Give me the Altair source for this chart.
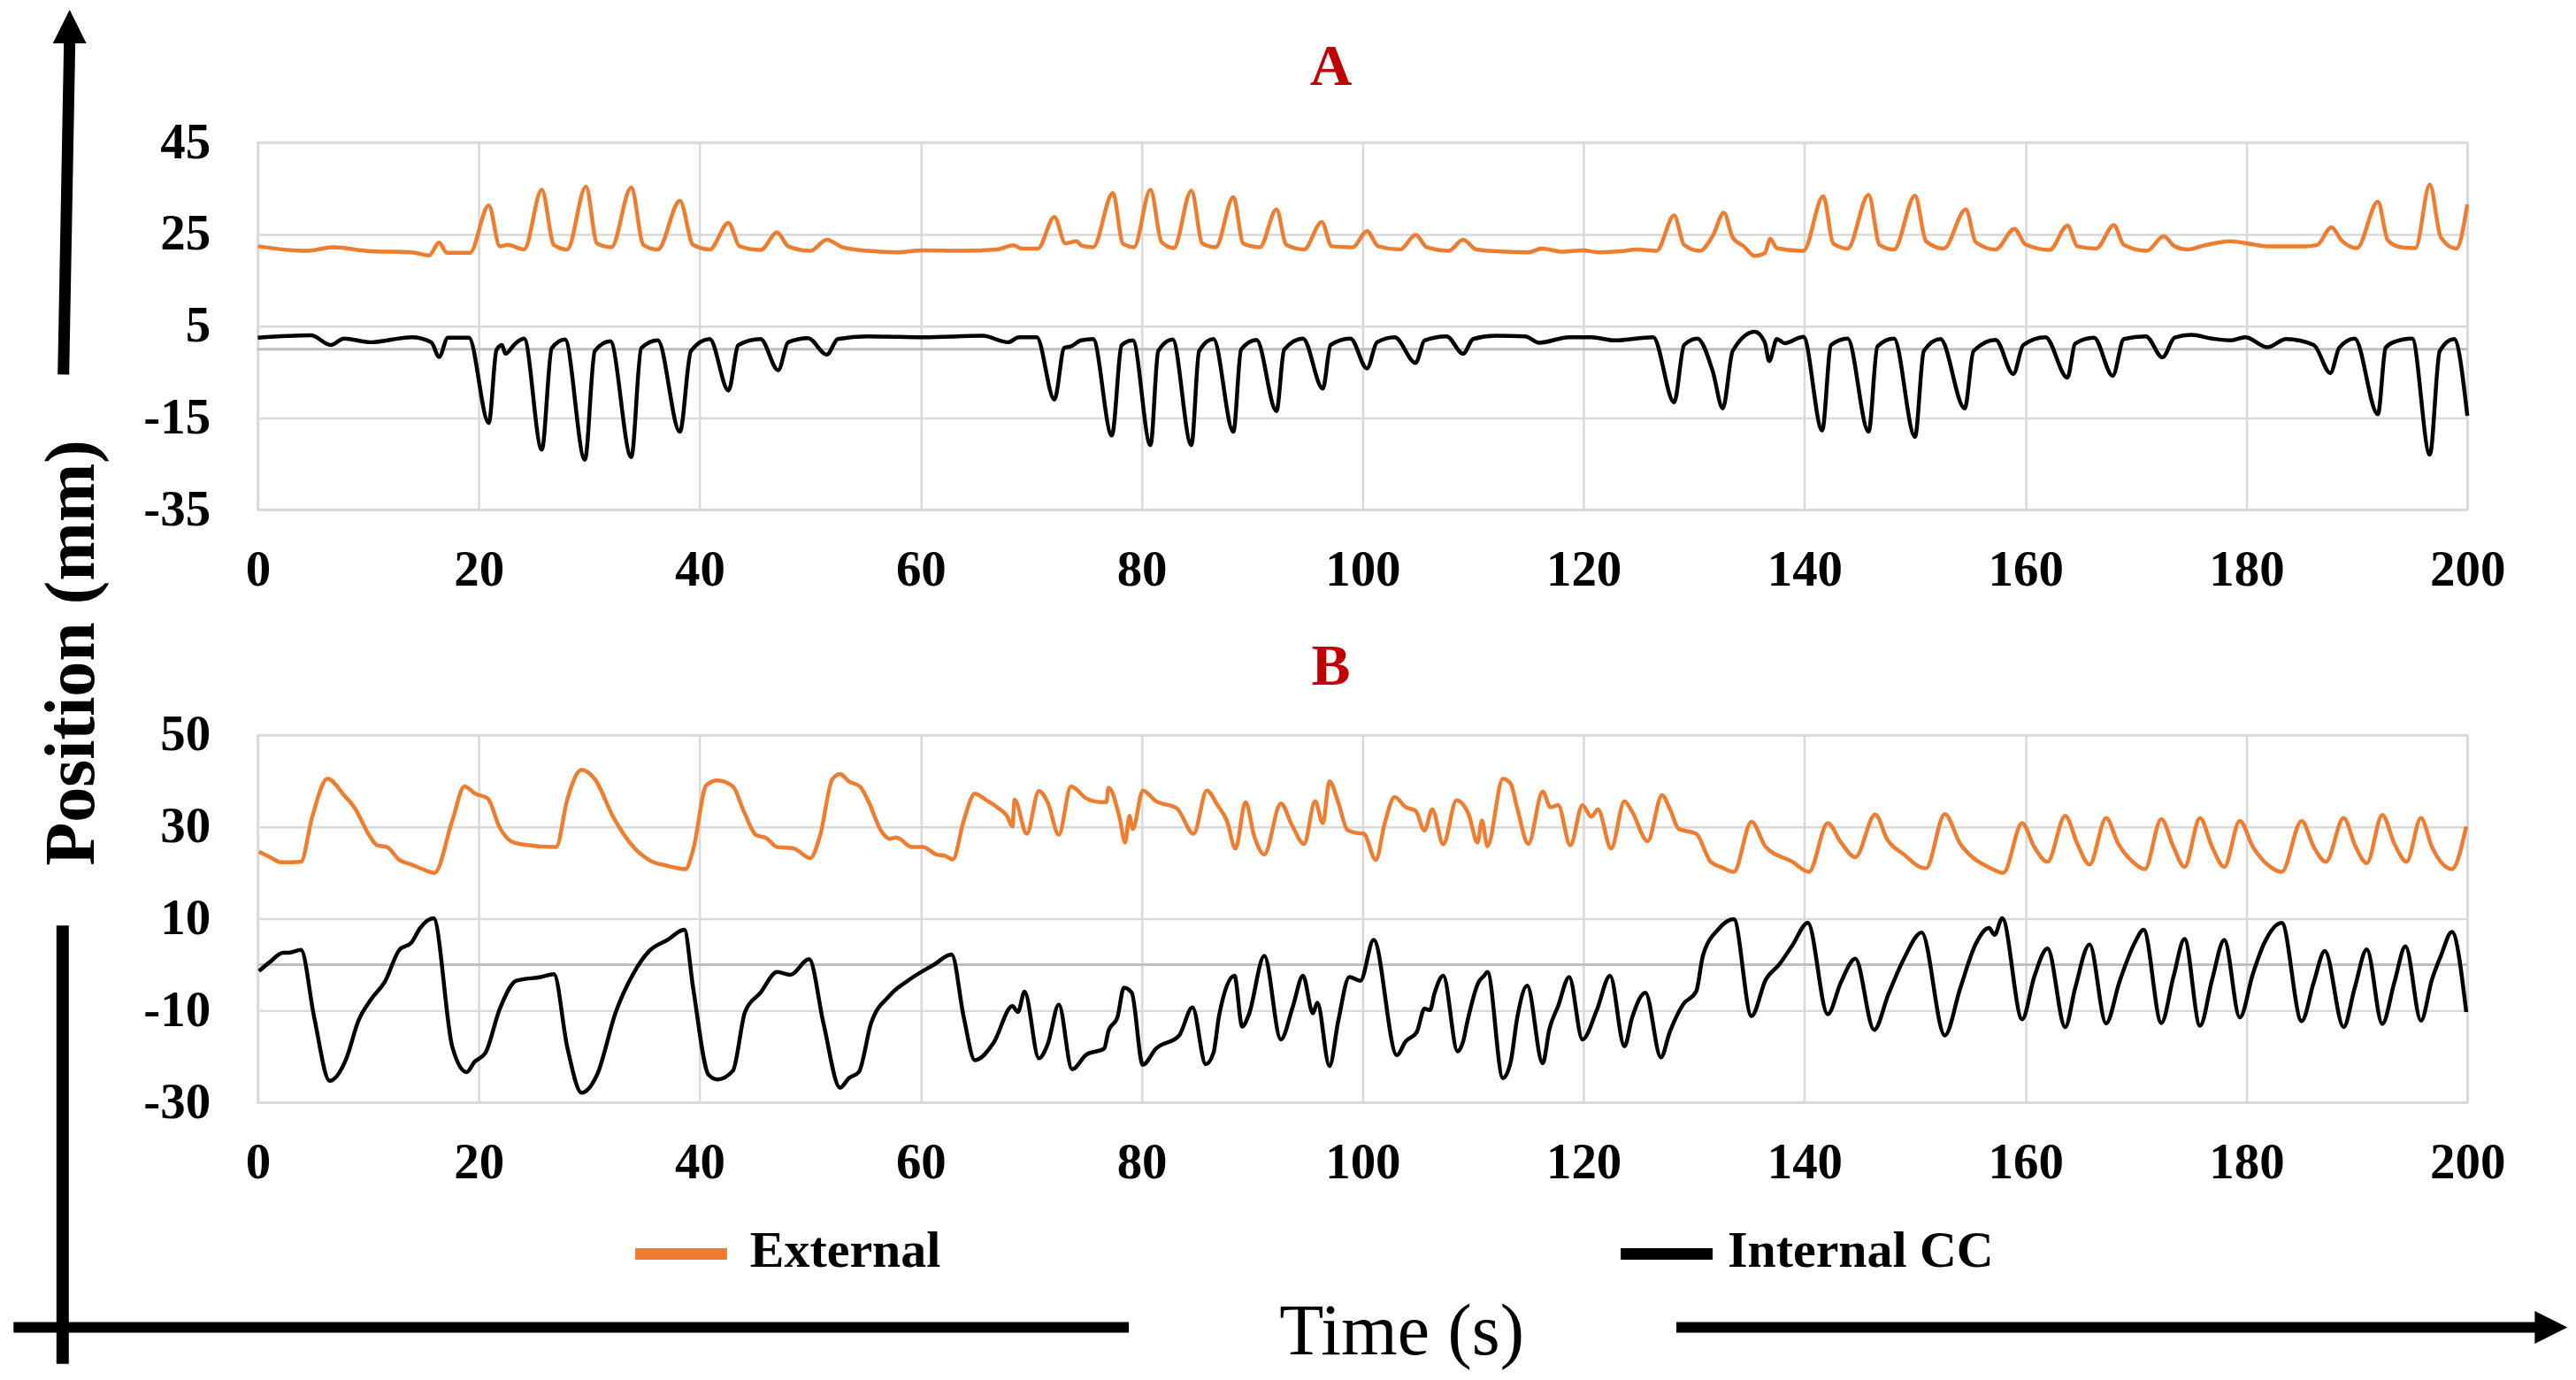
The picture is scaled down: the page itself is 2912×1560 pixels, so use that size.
import altair as alt
import pandas as pd

# ---------------- data ----------------
# Panel A - External
a_ext_t = [0, 4.4, 6.8, 10.2, 13.9, 15.5, 16.4, 17.1, 19.2, 20.9, 21.9, 22.6, 24.1, 25.7, 26.8, 28.0,
           29.7, 30.7, 32.0, 33.8, 34.9, 36.2, 38.2, 39.4, 40.9, 42.6, 43.6, 45.5, 47.0, 48.0, 50.0,
           51.5, 52.9, 55.2, 57.9, 60.2, 63.6, 66.9, 68.4, 69.1, 70.6, 72.1, 73.1, 74.1, 74.6, 75.6,
           77.4, 78.3, 79.3, 80.8, 81.8, 82.9, 84.5, 85.5, 86.7, 88.3, 89.2, 90.7, 92.2, 93.1, 94.7,
           96.3, 97.2, 99.1, 100.4, 101.4, 103.4, 104.8, 105.8, 107.8, 109.1, 110.3, 113.0, 115.0,
           116.2, 118.1, 119.9, 121.4, 123.4, 124.8, 126.6, 128.2, 129.1, 130.5, 131.7, 132.7, 133.5,
           134.5, 135.5, 136.4, 136.9, 137.5, 139.9, 141.7, 142.6, 143.9, 145.8, 146.8, 148.1, 150.0,
           151.0, 152.6, 154.6, 155.5, 157.3, 159.0, 160.0, 162.2, 163.8, 164.7, 166.4, 168.0, 168.9,
           171.0, 172.5, 173.5, 174.7, 176.2, 178.5, 179.6, 181.9, 185.3, 186.4, 187.7, 188.6, 190.0,
           191.9, 192.8, 194.0, 195.3, 196.6, 197.6, 199.0, 200.0]
a_ext_v = [22.4, 21.4, 22.2, 21.3, 21.1, 20.4, 23.2, 21.0, 21.0, 31.3, 22.4, 22.7, 21.7, 34.7, 22.7, 21.7,
           35.4, 23.0, 22.2, 35.2, 22.7, 21.7, 32.3, 22.7, 21.7, 27.5, 22.4, 21.6, 25.4, 22.4, 21.4,
           23.8, 22.2, 21.4, 21.1, 21.5, 21.4, 21.7, 22.6, 21.9, 21.9, 28.8, 23.0, 23.5, 22.5, 22.2,
           34.0, 23.0, 22.2, 34.7, 23.3, 22.0, 34.5, 23.0, 22.2, 33.1, 23.0, 22.2, 30.4, 22.7, 21.7,
           27.7, 22.4, 22.2, 25.7, 22.4, 21.7, 24.9, 22.2, 21.4, 23.8, 21.7, 21.2, 21.1,
           21.9, 21.2, 21.5, 21.1, 21.3, 21.7, 21.4, 29.1, 22.7, 21.4, 24.7, 29.7, 24.3,
           22.4, 20.3, 20.9, 24.0, 22.0, 21.4, 33.3, 23.0, 21.9, 33.6, 22.7, 21.7, 33.4,
           23.5, 21.9, 30.4, 23.3, 21.7, 26.2, 22.8, 21.6, 26.9, 22.4, 21.9, 27.0, 22.7,
           21.4, 24.6, 22.4, 21.7, 22.6, 23.5, 23.2, 22.4, 22.4, 22.7, 26.5, 23.7, 22.0,
           32.1, 23.7, 22.2, 22.0, 35.8, 24.3, 21.9, 31.5]

# Panel A - Internal CC
a_int_t = [0, 4.8, 6.6, 7.8, 10.2, 13.9, 15.7, 16.4, 17.2, 19.1, 20.9, 21.6, 22.1, 22.4, 23.3, 24.1,
           25.7, 26.6, 27.8, 29.6, 30.5, 31.9, 33.8, 34.7, 36.2, 38.2, 39.2, 40.9, 42.6, 43.5, 45.5,
           47.1, 48.0, 49.8, 51.5, 52.5, 55.2, 60.2, 65.6, 67.9, 68.9, 70.5, 72.1, 73.0, 73.6, 74.5,
           75.6, 77.3, 78.2, 79.2, 80.8, 81.5, 82.8, 84.5, 85.2, 86.5, 88.3, 89.0, 90.4, 92.2, 92.9,
           94.6, 96.4, 97.1, 98.9, 100.4, 101.3, 102.9, 104.8, 105.6, 107.6, 109.1, 110.0, 112.0,
           114.7, 116.0, 118.7, 120.7, 122.8, 126.3, 128.2, 129.1, 130.3, 131.7, 132.6, 133.5, 135.5,
           136.4, 136.8, 137.5, 138.2, 139.9, 141.6, 142.4, 143.9, 145.8, 146.6, 148.1, 150.0, 150.8,
           152.3, 154.5, 155.3, 157.3, 158.9, 159.8, 161.8, 163.8, 164.5, 166.2, 167.9, 168.9, 170.9,
           172.4, 173.5, 175.0, 176.9, 178.6, 179.9, 181.9, 183.6, 186.1, 187.6, 188.4, 189.8, 191.9,
           192.6, 193.3, 195.0, 196.6, 197.5, 198.8, 200.0]
a_int_v = [2.5, 3.0, 0.9, 2.3, 1.5, 2.6, 1.5, -1.7, 2.5, 2.5, -16.1, -0.2, 0.9, -1.0, 1.2, 2.3,
           -21.9, 0.2, 2.1, -24.1, -0.4, 1.7, -23.5, 0.2, 1.9, -18.0, -0.4, 2.2, -9.0, 0.9, 2.2,
           -4.6, 1.5, 2.4, -1.2, 2.2, 2.8, 2.6, 2.9, 1.5, 2.6, 2.6, -11.0, 0.3, 0.6, 1.9,
           2.2, -18.8, 0.9, 1.9, -20.9, -0.4, 2.1, -20.9, -0.4, 2.2, -18.0, -0.1, 2.0, -13.5, -0.1,
           2.3, -8.6, 0.9, 2.3, -4.2, 1.5, 2.6, -3.0, 1.9, 2.8, -1.0, 2.2, 2.9,
           2.8, 1.4, 2.6, 2.6, 1.9, 2.6, -11.6, 0.9, 2.3, -4.9, -12.9, -0.4, 3.8,
           1.5, -2.6, 2.2, 1.3, 2.7, -17.7, 0.9, 2.3, -18.0, 0.6, 2.3, -19.1, -0.4,
           2.2, -12.9, -0.4, 2.0, -5.4, 0.9, 2.6, -6.2, 1.2, 2.5, -5.8, 2.2, 2.8,
           -1.8, 2.5, 3.1, 2.3, 1.9, 2.6, 0.4, 2.2, 0.9, -5.2, 0.3, 2.3, -14.2,
           0.3, 1.5, 2.3, -23.0, -0.4, 2.2, -14.5]

# Panel B - External
b_ext_t = [0.1, 1.1, 2.1, 3.9, 4.9, 6.3, 7.8, 8.8, 10.0, 10.8, 11.7, 12.8, 13.9, 14.9, 16.0, 17.6,
           18.7, 19.7, 20.8, 21.9, 22.9, 23.9, 27.0, 28.0, 29.3, 30.5, 32.2, 34.0, 35.4, 37.1, 38.7,
           39.4, 40.6, 41.6, 43.0, 44.0, 45.1, 46.0, 47.0, 48.5, 50.0, 50.9, 52.0, 52.7, 53.5, 54.5,
           55.2, 56.5, 57.2, 57.8, 59.2, 60.2, 61.4, 62.2, 62.9, 63.9, 64.9, 65.9, 66.9, 67.8, 68.3,
           68.5, 69.6, 70.7, 71.5, 72.5, 73.6, 75.0, 76.3, 76.8, 77.0, 78.0, 78.5, 78.9, 79.2, 80.1,
           81.3, 83.2, 84.7, 85.9, 86.9, 87.7, 88.5, 89.4, 90.2, 91.1, 92.6, 93.6, 94.7, 95.7, 96.4,
           97.0, 97.8, 98.6, 99.4, 100.1, 101.2, 102.0, 102.9, 103.9, 104.8, 105.6, 106.3, 107.3,
           108.5, 109.6, 110.4, 110.8, 111.3, 112.7, 113.4, 114.0, 115.0, 116.3, 117.0, 117.7, 118.8,
           119.9, 120.7, 121.3, 122.5, 123.7, 124.4, 125.8, 127.1, 127.8, 128.6, 130.2, 131.5, 132.5,
           133.6, 135.2, 136.5, 138.9, 140.4, 142.1, 143.3, 144.6, 146.4, 147.5, 149.0, 150.5, 151.0,
           152.7, 154.1, 155.2, 156.7, 158.0, 159.7, 160.8, 162.0, 163.6, 164.7, 165.8, 167.3, 168.4,
           169.7, 170.8, 172.3, 173.4, 174.4, 175.8, 176.9, 178.0, 179.4, 180.6, 181.9, 183.2, 185.0,
           186.1, 187.2, 188.8, 189.9, 190.9, 192.3, 193.4, 194.5, 195.8, 196.8, 198.6, 199.9]
b_ext_v = [24.6, 23.4, 22.3, 22.4, 32.0, 40.5, 36.9, 34.0, 28.5, 26.0, 25.6, 22.8, 21.8, 20.8, 20.0, 31.4,
           38.8, 37.2, 36.2, 29.8, 26.9, 26.2, 25.6, 35.9, 42.4, 40.4, 32.0, 25.6, 22.8, 21.5, 20.8,
           25.0, 39.1, 40.1, 38.8, 33.3, 28.2, 27.6, 25.6, 25.3, 23.2, 28.2, 40.4, 41.5, 39.9, 38.8,
           35.9, 28.8, 27.4, 27.7, 25.6, 25.6, 24.0, 23.7, 22.9, 31.4, 37.2, 35.9, 34.3, 32.4, 30.1,
           35.9, 28.5, 37.8, 35.3, 28.3, 38.8, 36.2, 35.4, 35.4, 38.5, 32.0, 26.6, 32.4, 29.5, 37.9,
           35.6, 34.0, 28.5, 37.9, 34.6, 31.4, 25.3, 35.4, 27.9, 24.0, 35.1, 30.4, 26.3, 35.6, 30.8,
           39.9, 35.3, 29.4, 28.7, 28.5, 22.8, 30.8, 36.5, 34.3, 33.5, 29.2, 33.8, 26.2,
           35.8, 32.7, 26.6, 31.4, 25.8, 40.5, 39.4, 34.0, 26.3, 37.7, 34.3, 34.7, 26.0,
           34.7, 32.2, 33.8, 25.3, 35.6, 33.3, 26.9, 36.9, 34.0, 29.6, 28.5, 22.4, 21.2,
           20.2, 31.1, 25.6, 22.4, 20.2, 30.8, 26.6, 23.4, 32.7, 27.2, 24.0, 21.2, 21.0,
           32.8, 26.3, 23.4, 21.2, 20.0, 30.8, 25.6, 22.4, 32.4, 26.3, 21.8, 31.9, 26.3,
           22.4, 20.8, 31.7, 25.6, 21.3, 31.9, 25.6, 21.3, 31.3, 25.6, 21.8, 20.2, 31.3,
           25.6, 22.4, 31.9, 25.6, 22.1, 32.6, 26.3, 22.4, 31.9, 25.6, 20.8, 30.1]

# Panel B - Internal CC
b_int_t = [0.1, 1.1, 2.3, 2.8, 3.9, 5.1, 6.5, 8.0, 9.1, 10.2, 11.5, 12.8, 13.9, 14.7, 15.9, 17.6,
           18.9, 19.6, 20.6, 21.9, 23.4, 25.6, 26.8, 28.0, 29.3, 30.7, 32.4, 34.0, 35.4, 37.1, 38.6,
           39.4, 40.8, 41.6, 43.0, 44.1, 45.5, 47.0, 48.2, 49.9, 51.2, 52.7, 53.5, 54.4, 55.5, 57.2,
           59.2, 61.2, 62.8, 63.9, 64.9, 66.6, 68.3, 68.8, 69.4, 70.7, 71.5, 72.5, 73.7, 75.0, 76.6,
           77.0, 77.8, 78.4, 79.1, 80.1, 81.3, 83.4, 84.6, 85.8, 86.5, 87.0, 88.4, 89.1, 89.7, 91.1,
           92.6, 93.7, 94.6, 95.5, 95.9, 97.0, 97.8, 98.8, 99.8, 101.0, 103.1, 103.9, 104.9, 105.6,
           106.1, 106.5, 107.3, 108.6, 109.1, 109.5, 110.5, 111.0, 111.3, 112.7, 113.4, 114.0, 114.9,
           116.3, 116.9, 117.7, 118.7, 119.9, 121.2, 122.4, 123.7, 124.4, 125.6, 127.0, 127.8, 129.0,
           130.2, 130.8, 132.2, 133.6, 135.2, 136.5, 137.7, 138.9, 140.3, 142.1, 143.3, 144.6, 146.3,
           147.6, 149.0, 150.6, 152.7, 154.1, 155.5, 156.7, 157.2, 157.9, 159.7, 160.8, 162.0, 163.6,
           164.5, 165.8, 167.3, 168.5, 169.9, 170.7, 172.3, 173.4, 174.4, 175.8, 176.9, 178.0, 179.4,
           180.6, 181.6, 183.2, 185.0, 186.1, 187.1, 188.8, 189.8, 190.9, 192.3, 193.4, 194.4, 195.8,
           196.8, 197.6, 198.6, 199.9]
b_int_v = [-1.4, 0.6, 2.6, 2.6, 3.2, -11.5, -25.3, -20.5, -12.2, -7.7, -3.7, 3.2, 4.8, 8.0, 10.1, -17.9,
           -23.4, -21.2, -19.2, -9.6, -3.5, -2.7, -2.1, -17.9, -27.9, -24.0, -10.3, -1.9, 2.9, 5.4, 7.6,
           -5.1, -24.0, -25.0, -23.1, -10.3, -6.1, -1.6, -2.2, 1.2, -12.8, -26.8, -24.7, -23.4, -12.8, -6.7,
           -2.9, 0.0, 2.2, -11.5, -20.8, -17.0, -9.0, -10.3, -5.9, -20.4, -17.3, -8.7, -22.8, -19.6, -18.3,
           -14.4, -11.5, -5.0, -6.1, -21.8, -18.3, -15.4, -9.3, -21.7, -19.2, -11.2, -2.4, -13.5, -10.9, 1.9,
           -16.3, -9.0, -2.4, -10.6, -8.3, -22.1, -12.2, -2.7, -3.5, 5.4, -19.7, -16.7, -14.7, -9.6,
           -9.9, -6.3, -2.4, -18.9, -16.7, -12.2, -3.8, -2.4, -1.6, -24.7, -21.2, -11.5, -4.6,
           -21.5, -14.1, -9.0, -2.7, -16.3, -9.9, -2.4, -17.8, -11.5, -6.1, -20.2, -14.7, -8.7,
           -5.8, 1.9, 7.7, 9.9, -11.2, -3.2, 0.0, 4.2, 9.1, -10.8, -3.8, 1.3, -14.2,
           -6.4, 1.3, 7.0, -15.4, -5.1, 4.5, 8.0, 6.5, 10.1, -11.9, -2.6, 3.5, -13.6,
           -5.1, 4.4, -12.8, -3.8, 4.8, 7.6, -12.7, -2.6, 5.6, -13.3, -3.2, 5.4, -11.5,
           -1.9, 4.6, 9.1, -12.3, -3.8, 3.0, -13.6, -5.1, 3.3, -12.9, -3.8, 4.0, -12.2,
           -3.2, 1.9, 7.1, -10.3]

series_names = ["External", "Internal CC"]
series_colors = ["#ED7D31", "#000000"]
panel_titles = ["A", "B"]
x_ticks = [0, 20, 40, 60, 80, 100, 120, 140, 160, 180, 200]
a_y_ticks = [-35, -15, 5, 25, 45]
b_y_ticks = [-30, -10, 10, 30, 50]
y_axis_title = "Position (mm)"
x_axis_title = "Time (s)"

# ---------------- styling ----------------
FONT = "Liberation Serif"
W, H = 2502, 416
GAP = 255
one = pd.DataFrame({"k": [0]})


def frame(ext_t, ext_v, int_t, int_v):
    return pd.concat([
        pd.DataFrame({"t": ext_t, "v": ext_v, "series": series_names[0]}),
        pd.DataFrame({"t": int_t, "v": int_v, "series": series_names[1]}),
    ], ignore_index=True)


def rule(x, x2, y, y2, sw, color="black"):
    return alt.Chart(one).mark_rule(color=color, strokeWidth=sw, strokeCap="butt").encode(
        x=alt.value(x), x2=alt.value(x2), y=alt.value(y), y2=alt.value(y2))


def label(txt, x, y, size, weight="bold", color="black", align="center", baseline="alphabetic", angle=0):
    kw = dict(text=txt, font=FONT, fontSize=size, fontWeight=weight, color=color,
              align=align, baseline=baseline)
    if angle:
        kw["angle"] = angle
    return alt.Chart(one).mark_text(**kw).encode(x=alt.value(x), y=alt.value(y))


def arrowhead(shape, x, y, side):
    return alt.Chart(one).mark_point(shape=shape, filled=True, color="black", opacity=1,
                                     size=side * side).encode(x=alt.value(x), y=alt.value(y))


def panel(df, yticks, title, title_y, extras):
    x = alt.X("t:Q", scale=alt.Scale(domain=[0, 200], nice=False),
              axis=alt.Axis(values=x_ticks, title=None, labelPadding=40, labelFlush=False,
                            labelOverlap=False))
    y = alt.Y("v:Q", scale=alt.Scale(domain=[yticks[0], yticks[-1]], nice=False, zero=False),
              axis=alt.Axis(values=yticks, title=None, labelPadding=54, labelFlush=False,
                            labelOverlap=False, labelExpr="'' + datum.value"))
    zero = alt.Chart(pd.DataFrame({"v": [0]})).mark_rule(color="#bfbfbf", strokeWidth=3).encode(
        y=alt.Y("v:Q"))
    lines = alt.Chart(df).mark_line(strokeWidth=4.5, strokeJoin="round",
                                    interpolate="monotone").encode(
        x=x, y=y,
        color=alt.Color("series:N", scale=alt.Scale(domain=series_names, range=series_colors),
                        legend=None),
        detail="series:N")
    ttl = label(title, 1215, title_y, 66, color="#C00000")
    return alt.layer(zero, lines, ttl, *extras).properties(width=W, height=H)


dfa = frame(a_ext_t, a_ext_v, a_int_t, a_int_v)
dfb = frame(b_ext_t, b_ext_v, b_int_t, b_int_v)

extras_a = [
    rule(-220.2, -213.2, 262.7, -113.3, 13),
    arrowhead("M0,-1L-1,1L1,1Z", -213.2, -131.3, 38),
    label(y_axis_title, -209.7, 577.7, 80, baseline="middle", angle=270),
]
extras_b = [
    rule(-221.1, -221.1, 215.7, 712, 14),
    rule(-276.7, 986.3, 670.7, 670.7, 12),
    rule(1606.3, 2580.3, 670.7, 670.7, 12),
    arrowhead("M1,0L-1,-1L-1,1Z", 2596.8, 670.7, 37),
    label(x_axis_title, 1295.3, 701.7, 82, weight="normal"),
    rule(427.3, 531.3, 587.7, 587.7, 13, color=series_colors[0]),
    label(series_names[0], 557.3, 585.3, 58, align="left", baseline="middle"),
    rule(1543.3, 1647.3, 587.7, 587.7, 13, color=series_colors[1]),
    label(series_names[1], 1664.3, 585.3, 58, align="left", baseline="middle"),
]

pa = panel(dfa, a_y_ticks, panel_titles[0], -65.6, extras_a)
pb = panel(dfb, b_y_ticks, panel_titles[1], -57.3, extras_b)

chart = alt.vconcat(pa, pb, spacing=GAP, bounds="flush").properties(
    padding=0, background="white"
).configure_view(
    stroke="#d9d9d9", strokeWidth=2.5
).configure_axis(
    labelFont=FONT, labelFontSize=57, labelFontWeight="bold", labelColor="black",
    ticks=False, tickSize=0, domain=False,
    grid=True, gridColor="#d9d9d9", gridWidth=2.5
)

chart.save("out.html", embed_options={"renderer": "svg", "actions": False})
